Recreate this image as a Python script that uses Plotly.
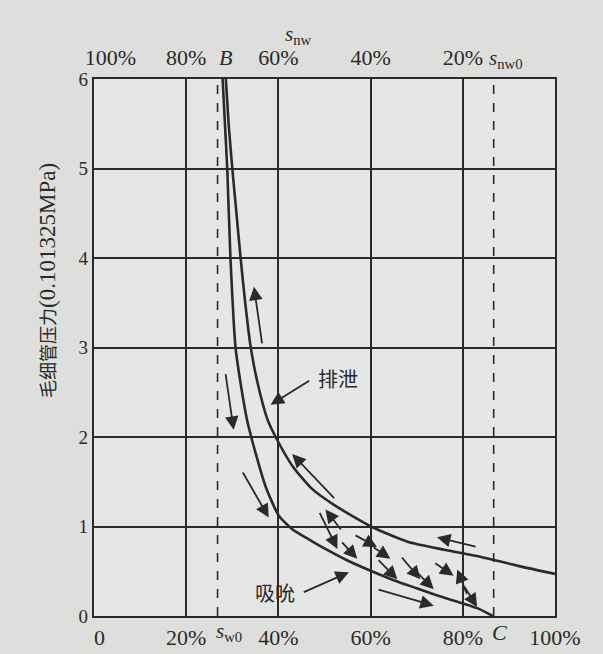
import plotly.graph_objects as go

# ---------------- data ----------------
# drainage (排泄) curve: water saturation (%) vs capillary pressure (0.101325 MPa)
sw_drain = [28.6, 29.2, 30.0, 30.9, 31.8, 32.8, 34.0, 35.5, 37.6, 39.4, 43.0, 47.3, 52.4, 60.1, 68.0, 76.0, 84.0, 92.0, 100.0]
p_drain = [6.0, 5.5, 5.0, 4.5, 4.0, 3.5, 3.0, 2.6, 2.2, 2.0, 1.68, 1.42, 1.23, 1.0, 0.83, 0.74, 0.66, 0.56, 0.47]

# imbibition (吸吮) curve
sw_imb = [27.9, 28.4, 28.9, 29.6, 30.7, 31.8, 33.2, 35.0, 37.2, 40.1, 43.0, 46.5, 50.2, 55.0, 60.0, 65.0, 70.0, 75.0, 80.0, 83.5, 86.5]
p_imb = [6.0, 5.5, 5.0, 4.0, 3.0, 2.6, 2.19, 1.83, 1.45, 1.12, 0.97, 0.86, 0.75, 0.62, 0.505, 0.40, 0.31, 0.22, 0.14, 0.08, 0.0]

# flow-direction arrows (tail -> tip)
arrow_tail_sw = [36.5, 28.5, 52.4, 32.1, 61.4, 83.1, 48.8, 53.8, 56.4, 53.5, 60.3, 61.4, 66.5, 69.4, 73.7, 81.0, 80.2]
arrow_tail_p = [3.03, 2.72, 1.30, 1.62, 0.30, 0.77, 1.17, 0.95, 0.91, 0.84, 0.78, 0.64, 0.67, 0.52, 0.60, 0.23, 0.34]
arrow_tip_sw = [34.7, 30.3, 43.0, 37.9, 73.7, 74.4, 52.8, 50.2, 61.4, 57.1, 64.3, 65.8, 70.8, 73.7, 78.0, 78.8, 83.1]
arrow_tip_p = [3.68, 2.08, 1.81, 1.10, 0.115, 0.88, 0.75, 1.19, 0.77, 0.64, 0.64, 0.41, 0.41, 0.30, 0.45, 0.52, 0.10]

# curve labels with pointer arrows
label_texts = ["排泄", "吸吮"]
label_sw = [53.0, 39.2]
label_p = [2.65, 0.26]
pointer_tail_sw = [47.0, 45.2]
pointer_tail_p = [2.64, 0.26]
pointer_tip_sw = [38.3, 55.3]
pointer_tip_p = [2.36, 0.49]

# axes
sw_ticks = [0, 20, 40, 60, 80, 100]
sw_labels = ["\u20070", "20%", "40%", "60%", "80%", "100%"]
snw_ticks = [100, 80, 60, 40, 20]
snw_labels = ["\u2007\u2007\u2007100%", "80%", "60%", "40%", "20%"]
p_ticks = [0, 1, 2, 3, 4, 5, 6]
p_labels = ["0", "1", "2", "3", "4", "5", "6"]

sw0 = 26.8   # irreducible water saturation s_w0 (point B)
swC = 86.7   # point C
pA = 0.45    # point A level

ink = "#2a2a2a"
serif = "Liberation Serif"
paper = "#dedfdc"

fig = go.Figure()
fig.add_trace(go.Scatter(x=sw_drain, y=p_drain, mode="lines", line=dict(color=ink, width=2.6, shape="spline", smoothing=0.6),
                         hoverinfo="skip", showlegend=False))
fig.add_trace(go.Scatter(x=sw_imb, y=p_imb, mode="lines", line=dict(color=ink, width=2.6, shape="spline", smoothing=0.6),
                         hoverinfo="skip", showlegend=False))
# invisible trace to activate top axis
fig.add_trace(go.Scatter(x=[100 - v for v in sw_ticks], y=[None] * len(sw_ticks), xaxis="x2", mode="lines",
                         hoverinfo="skip", showlegend=False))

# dashed verticals
for xv in [sw0, swC]:
    fig.add_shape(type="line", x0=xv, x1=xv, y0=0, y1=1, xref="x", yref="paper",
                  line=dict(color=ink, width=1.6, dash="dash"), layer="above")

annotations = []
for tx, ty, hx, hy in zip(arrow_tail_sw, arrow_tail_p, arrow_tip_sw, arrow_tip_p):
    annotations.append(dict(x=hx, y=hy, ax=tx, ay=ty, xref="x", yref="y", axref="x", ayref="y",
                            showarrow=True, arrowhead=2, arrowsize=1.5, arrowwidth=1.8, arrowcolor=ink, text=""))
for t, lx, ly, tx, ty, hx, hy in zip(label_texts, label_sw, label_p, pointer_tail_sw, pointer_tail_p, pointer_tip_sw, pointer_tip_p):
    annotations.append(dict(x=hx, y=hy, ax=tx, ay=ty, xref="x", yref="y", axref="x", ayref="y",
                            showarrow=True, arrowhead=2, arrowsize=1.5, arrowwidth=1.8, arrowcolor=ink, text=""))
    annotations.append(dict(x=lx, y=ly, xref="x", yref="y", text=t, showarrow=False,
                            font=dict(family="Noto Sans CJK SC", size=20, color=ink)))

# point / symbol labels
annotations += [
    dict(x=103.4, y=pA, xref="x", yref="y", text="<i>A</i>", showarrow=False, font=dict(family=serif, size=22, color=ink)),
    dict(x=28.5, y=1, xref="x", yref="paper", yshift=22, yanchor="middle", text="<i>B</i>", showarrow=False,
         font=dict(family=serif, size=22, color=ink)),
    dict(x=89.3, y=1, xref="x", yref="paper", yshift=20, yanchor="middle", text="<i>s</i><sub>nw0</sub>", showarrow=False,
         font=dict(family=serif, size=21, color=ink)),
    dict(x=44.4, y=1, xref="x", yref="paper", yshift=44, yanchor="middle", text="<i>s</i><sub>nw</sub>", showarrow=False,
         font=dict(family=serif, size=21, color=ink)),
    dict(x=29.2, y=0, xref="x", yref="paper", yshift=-16, yanchor="middle", text="<i>s</i><sub>w0</sub>", showarrow=False,
         font=dict(family=serif, size=21, color=ink)),
    dict(x=87.9, y=0, xref="x", yref="paper", yshift=-16, yanchor="middle", text="<i>C</i>", showarrow=False,
         font=dict(family=serif, size=22, color=ink)),
    dict(x=48.0, y=0, xref="x", yref="paper", yshift=-29, yanchor="top", text="<i>s</i><sub>w</sub>", showarrow=False,
         font=dict(family=serif, size=21, color=ink)),
    dict(x=0, y=0.624, xref="paper", yref="paper", xshift=-47, xanchor="center", yanchor="middle", textangle=-90, showarrow=False,
         text="<span style='font-family:Noto Sans CJK SC;font-size:18px'>毛细管压力</span>(0.101325MPa)",
         font=dict(family=serif, size=23, color=ink)),
]

fig.update_layout(
    width=603, height=654,
    margin=dict(l=94, r=48, t=79, b=38),
    paper_bgcolor=paper,
    plot_bgcolor="#e5e7e7",
    annotations=annotations,
    xaxis=dict(range=[0, 100], tickvals=sw_ticks, ticktext=sw_labels, showgrid=True, gridcolor=ink, gridwidth=1.7,
               zeroline=False, showline=True, linecolor=ink, linewidth=2.2, mirror=True, ticks="", automargin=False,
               ticklabelstandoff=0, tickfont=dict(family=serif, size=22, color=ink)),
    xaxis2=dict(range=[100, 0], overlaying="x", side="top", tickvals=snw_ticks, ticktext=snw_labels, showgrid=False,
                zeroline=False, showline=False, ticks="", ticklabelstandoff=9, automargin=False,
                tickfont=dict(family=serif, size=22, color=ink)),
    yaxis=dict(range=[0, 6], tickvals=p_ticks, ticktext=p_labels, showgrid=True, gridcolor=ink, gridwidth=1.7,
               zeroline=False, showline=True, linecolor=ink, linewidth=2.2, mirror=True, ticks="", automargin=False,
               tickfont=dict(family=serif, size=19, color=ink)),
)

fig.write_html("out.html", config={"displayModeBar": False},
               post_script="document.body.style.margin='0';document.body.style.overflow='hidden';"
                           "document.body.style.background='" + paper + "';")
